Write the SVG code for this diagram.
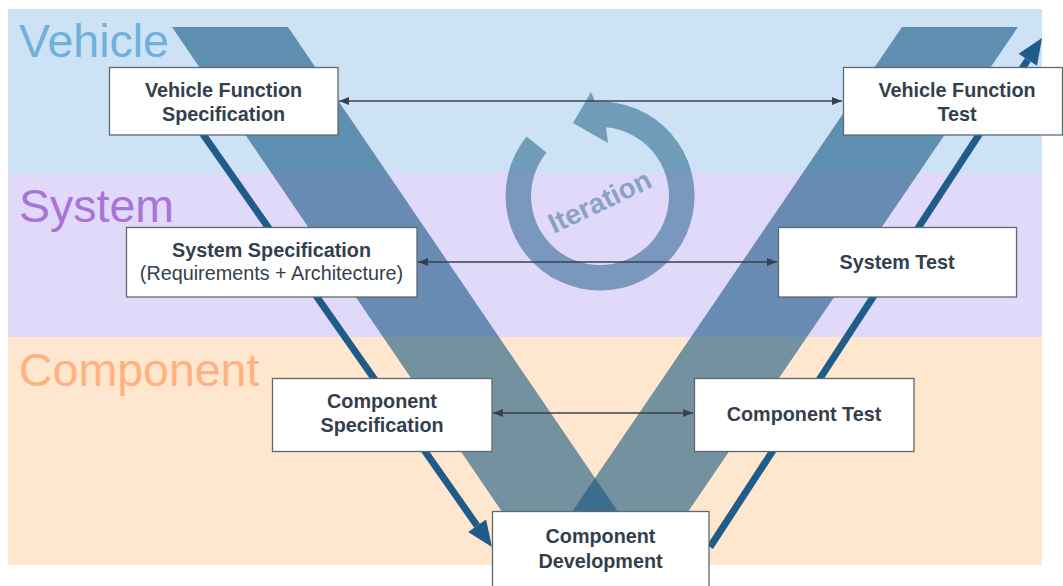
<svg xmlns="http://www.w3.org/2000/svg" width="1063" height="586" viewBox="0 0 1063 586">
<defs>
<style>
.band{stroke:none}
.lbl{font-family:"Liberation Sans",Arial,sans-serif;font-size:46.5px}
.arm{fill:rgb(19,85,128);opacity:0.59}
.flow{stroke:#1F5C8A;stroke-width:7;fill:none}
.head{fill:#1F5C8A}
.conn{stroke:#37424C;stroke-width:1.5;fill:none;marker-start:url(#ah);marker-end:url(#ah)}
.box{fill:#fff;stroke:#5F6770;stroke-width:1.3}
.t{font-family:"Liberation Sans",Arial,sans-serif;font-size:19.8px;font-weight:bold;fill:#333F4C;text-anchor:middle}
.n{font-weight:normal}
</style>
<marker id="ah" markerUnits="userSpaceOnUse" markerWidth="11" markerHeight="9" refX="10" refY="4" orient="auto-start-reverse">
<path d="M0,0 L10,4 L0,8 z" fill="#37424C"/>
</marker>
</defs>
<g id="bands">
<rect class="band" x="8" y="9" width="1034" height="164" fill="#CDE3F5"/>
<rect class="band" x="8" y="173" width="1034" height="164" fill="#E0D9FA"/>
<rect class="band" x="8" y="337" width="1034" height="228" fill="#FFE6CF"/>
<text class="lbl" x="19" y="57" fill="#6FB0DD">Vehicle</text>
<text class="lbl" x="19" y="222" fill="#A874D8">System</text>
<text class="lbl" x="19" y="386" fill="#FFB27F">Component</text>
</g>
<g id="v-shape">
<polygon class="arm" points="172,27 288,27 650.8,560 534.8,560"/>
<polygon class="arm" points="902,27 1018,27 655.2,560 539.2,560"/>
</g>
<g id="iteration">
<path d="M526.6,136.5 A94.5,94.5 0 1 0 595.1,101.6 L591,92 L573,123 L608,143 L606,127.3 A69,69 0 1 1 546.4,152.6 Z" fill="rgb(19,85,128)" opacity="0.5"/>
<text x="600" y="211" transform="rotate(-25.6 600 202)" font-family="'Liberation Sans',Arial,sans-serif" font-size="28" font-weight="bold" text-anchor="middle" fill="rgb(19,85,128)" opacity="0.42">Iteration</text>
</g>
<g id="flow-arrows">
<line class="flow" x1="200" y1="130" x2="477.1" y2="525.7"/>
<polygon class="head" points="492,547 468.1,532 486.1,519.4"/>
<line class="flow" x1="710" y1="547" x2="1027.8" y2="59.8"/>
<polygon class="head" points="1042,38 1037,65.8 1018.6,53.8"/>
</g>
<g id="connectors">
<line class="conn" x1="339" y1="101" x2="842" y2="101"/>
<line class="conn" x1="418" y1="262" x2="777" y2="262"/>
<line class="conn" x1="493" y1="413" x2="693" y2="413"/>
</g>
<g id="vehicle-function-specification">
<rect class="box" x="109.5" y="67.5" width="228.5" height="67.5"/>
<text class="t" x="223.5" y="97">Vehicle Function</text>
<text class="t" x="223.5" y="121">Specification</text>
</g>
<g id="vehicle-function-test">
<rect class="box" x="843.5" y="67.5" width="219" height="67.5"/>
<text class="t" x="957" y="97">Vehicle Function</text>
<text class="t" x="957" y="121">Test</text>
</g>
<g id="system-specification">
<rect class="box" x="126.5" y="227.5" width="290.5" height="69.5"/>
<text class="t" x="271.5" y="257">System Specification</text>
<text class="t n" x="271.5" y="280">(Requirements + Architecture)</text>
</g>
<g id="system-test">
<rect class="box" x="778.5" y="227.5" width="238" height="69.5"/>
<text class="t" x="897" y="268.5">System Test</text>
</g>
<g id="component-specification">
<rect class="box" x="272.5" y="378.5" width="219.5" height="73"/>
<text class="t" x="382" y="408">Component</text>
<text class="t" x="382" y="432">Specification</text>
</g>
<g id="component-test">
<rect class="box" x="694.5" y="378.5" width="219.5" height="73"/>
<text class="t" x="804" y="420.5">Component Test</text>
</g>
<g id="component-development">
<rect class="box" x="492.5" y="511.5" width="216.5" height="90"/>
<text class="t" x="600.5" y="543">Component</text>
<text class="t" x="600.5" y="568">Development</text>
</g>
</svg>
